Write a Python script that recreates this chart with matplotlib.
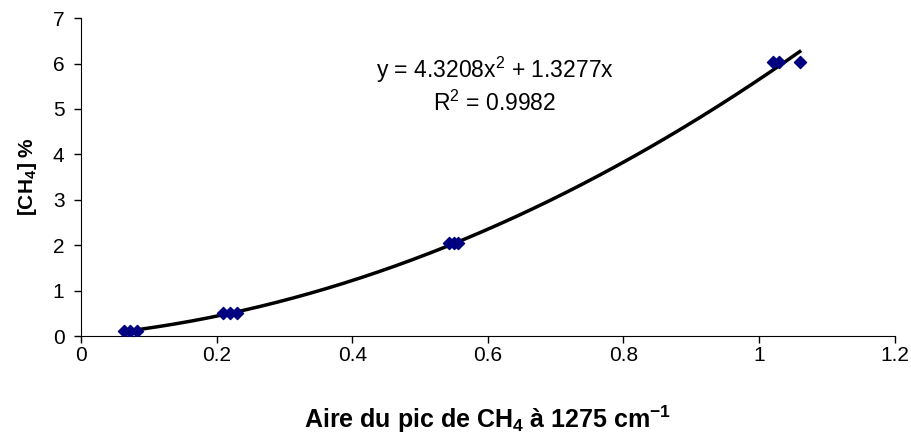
import numpy as np
import matplotlib
matplotlib.use('Agg')
import matplotlib.pyplot as plt

plt.rcParams['font.family'] = ['Liberation Sans', 'DejaVu Sans']
plt.rcParams['mathtext.fontset'] = 'custom'
plt.rcParams['mathtext.rm'] = 'Liberation Sans'
plt.rcParams['mathtext.bf'] = 'Liberation Sans:bold'

# Measured points
aire = [0.063, 0.072, 0.083, 0.21, 0.22, 0.23, 0.543, 0.55, 0.556, 1.02, 1.03, 1.06]
ch4 = [0.1, 0.1, 0.1, 0.5, 0.5, 0.5, 2.05, 2.05, 2.05, 6.03, 6.03, 6.03]

# Polynomial trend line coefficients (x^2, x)
coef_a = 4.3208
coef_b = 1.3277
r2 = 0.9982

x_ticks = [0, 0.2, 0.4, 0.6, 0.8, 1, 1.2]
x_tick_labels = ['0', '0.2', '0.4', '0.6', '0.8', '1', '1.2']
y_ticks = [0, 1, 2, 3, 4, 5, 6, 7]

fig = plt.figure(figsize=(9.11, 4.41), dpi=100)
ax = fig.add_axes([0.089, 0.238, 0.893, 0.721])

xs = np.linspace(min(aire), max(aire), 200)
ax.plot(xs, coef_a * xs**2 + coef_b * xs, color='black', linewidth=2.5, zorder=2)
ax.scatter(aire, ch4, marker='D', s=38, color='#000080', edgecolors='#000080', zorder=3)

ax.set_xlim(0, 1.2)
ax.set_ylim(0, 7)
ax.set_xticks(x_ticks)
ax.set_xticklabels(x_tick_labels)
ax.set_yticks(y_ticks)
ax.tick_params(direction='out', length=5, width=1, labelsize=15)
ax.tick_params(axis='x', pad=2)
ax.tick_params(axis='y', pad=7)
for s in ['top', 'right']:
    ax.spines[s].set_visible(False)

ax.set_xlabel('Aire du pic de CH$_\\mathbf{4}$ à 1275 cm$^\\mathbf{-1}$',
              fontsize=18, fontweight='bold', labelpad=28)
ax.set_ylabel('[CH$_\\mathbf{4}$] %', fontsize=15, fontweight='bold', labelpad=10)

ax.text(0.61, 5.86, 'y = %.4fx$^2$ + %.4fx' % (coef_a, coef_b),
        ha='center', va='center', fontsize=16.5)
ax.text(0.61, 5.13, 'R$^2$ = %.4f' % r2, ha='center', va='center', fontsize=16.5)

fig.savefig('out.png', dpi=100)
